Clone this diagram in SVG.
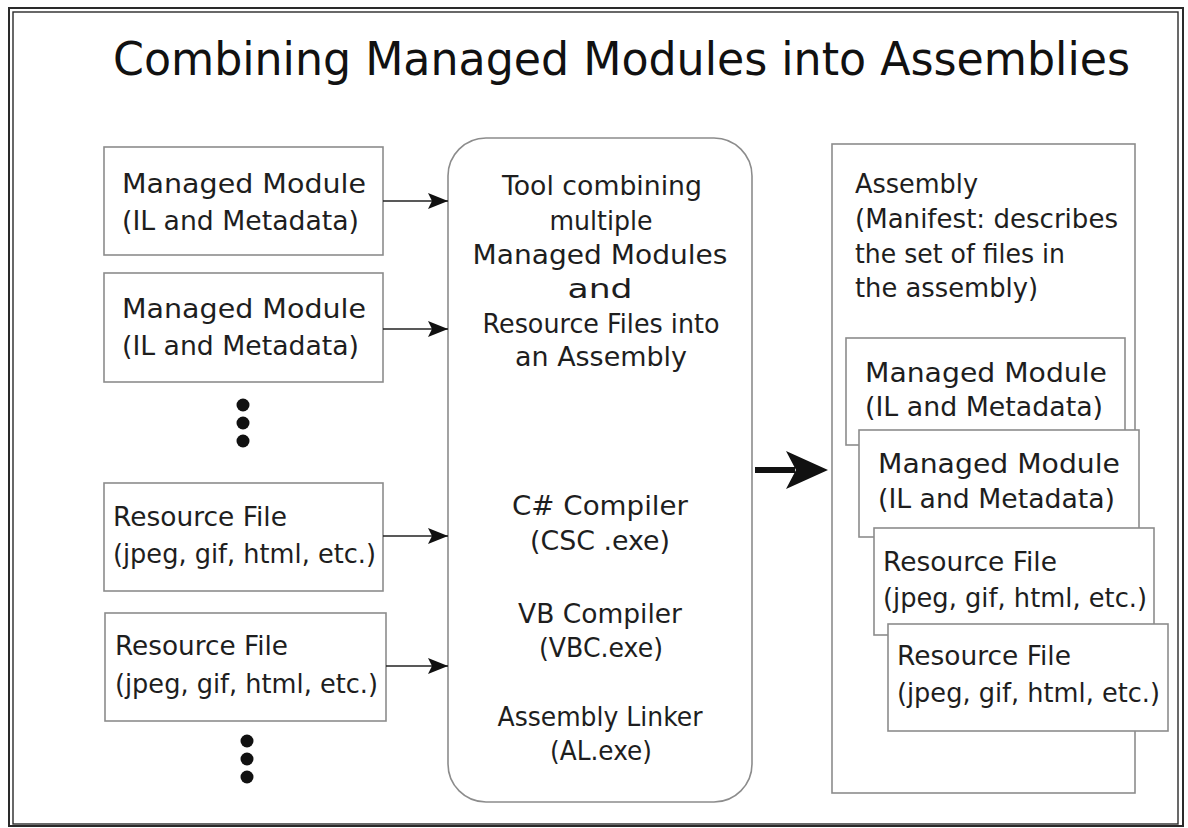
<svg xmlns="http://www.w3.org/2000/svg" width="1188" height="828" viewBox="0 0 1188 828">
  <style>
    .box { fill: #ffffff; stroke: #8c8c8c; stroke-width: 1.6; }
    .frame { fill: none; stroke: #2a2a2a; }
    .t { font-family: "DejaVu Sans", "Liberation Sans", sans-serif; font-size: 27px; fill: #1e1e1e; }
    .c { text-anchor: middle; }
    .title { font-family: "DejaVu Sans", "Liberation Sans", sans-serif; font-size: 46px; fill: #111111; }
    .wire { stroke: #222222; stroke-width: 1.6; fill: none; }
    .dot { fill: #111111; }
  </style>
  <defs>
    <marker id="head" viewBox="0 0 20 16" refX="20" refY="8" markerWidth="20" markerHeight="16" markerUnits="userSpaceOnUse" orient="auto">
      <path d="M0,0 L20,8 L0,16 L4,8 Z" fill="#111111"/>
    </marker>
  </defs>

  <rect width="1188" height="828" fill="#ffffff"/>

  <!-- double frame -->
  <rect class="frame" x="9" y="8" width="1174" height="818" stroke-width="2"/>
  <rect class="frame" x="13" y="12" width="1165" height="812" stroke-width="1.4"/>

  <text class="title" x="113" y="75" textLength="1017" lengthAdjust="spacingAndGlyphs">Combining Managed Modules into Assemblies</text>

  <!-- inputs -->
  <g id="module-in-1">
    <rect class="box" x="104" y="147" width="279" height="108"/>
    <text class="t" x="122" y="193" textLength="244" lengthAdjust="spacingAndGlyphs">Managed Module</text>
    <text class="t" x="122" y="230" textLength="237" lengthAdjust="spacingAndGlyphs">(IL and Metadata)</text>
  </g>
  <g id="module-in-2">
    <rect class="box" x="104" y="273" width="279" height="109"/>
    <text class="t" x="122" y="318" textLength="244" lengthAdjust="spacingAndGlyphs">Managed Module</text>
    <text class="t" x="122" y="355" textLength="237" lengthAdjust="spacingAndGlyphs">(IL and Metadata)</text>
  </g>
  <g id="more-modules">
    <circle class="dot" cx="243" cy="405" r="6.5"/>
    <circle class="dot" cx="243" cy="423" r="6.5"/>
    <circle class="dot" cx="243" cy="441" r="6.5"/>
  </g>
  <g id="resource-in-1">
    <rect class="box" x="104" y="483" width="279" height="108"/>
    <text class="t" x="113" y="526" textLength="174" lengthAdjust="spacingAndGlyphs">Resource File</text>
    <text class="t" x="113" y="563" textLength="263" lengthAdjust="spacingAndGlyphs">(jpeg, gif, html, etc.)</text>
  </g>
  <g id="resource-in-2">
    <rect class="box" x="105" y="613" width="281" height="108"/>
    <text class="t" x="115" y="655" textLength="173" lengthAdjust="spacingAndGlyphs">Resource File</text>
    <text class="t" x="115" y="693" textLength="263" lengthAdjust="spacingAndGlyphs">(jpeg, gif, html, etc.)</text>
  </g>
  <g id="more-resources">
    <circle class="dot" cx="247" cy="741" r="6.5"/>
    <circle class="dot" cx="247" cy="759" r="6.5"/>
    <circle class="dot" cx="247" cy="777" r="6.5"/>
  </g>

  <!-- combining tool -->
  <g id="tool">
    <rect class="box" x="448" y="138" width="304" height="664" rx="38" ry="38"/>
    <text class="t c" x="602" y="195" textLength="200" lengthAdjust="spacingAndGlyphs">Tool combining</text>
    <text class="t c" x="601" y="230" textLength="103" lengthAdjust="spacingAndGlyphs">multiple</text>
    <text class="t c" x="600" y="264" textLength="255" lengthAdjust="spacingAndGlyphs">Managed Modules</text>
    <text class="t c" x="600" y="298" textLength="65" lengthAdjust="spacingAndGlyphs">and</text>
    <text class="t c" x="601" y="333" textLength="237" lengthAdjust="spacingAndGlyphs">Resource Files into</text>
    <text class="t c" x="601" y="366" textLength="172" lengthAdjust="spacingAndGlyphs">an Assembly</text>
    <text class="t c" x="600" y="515" textLength="176" lengthAdjust="spacingAndGlyphs">C# Compiler</text>
    <text class="t c" x="600" y="550" textLength="140" lengthAdjust="spacingAndGlyphs">(CSC .exe)</text>
    <text class="t c" x="600" y="623" textLength="164" lengthAdjust="spacingAndGlyphs">VB Compiler</text>
    <text class="t c" x="601" y="657" textLength="124" lengthAdjust="spacingAndGlyphs">(VBC.exe)</text>
    <text class="t c" x="600" y="726" textLength="205" lengthAdjust="spacingAndGlyphs">Assembly Linker</text>
    <text class="t c" x="601" y="760" textLength="102" lengthAdjust="spacingAndGlyphs">(AL.exe)</text>
  </g>

  <!-- output assembly -->
  <g id="assembly">
    <rect class="box" x="832" y="144" width="303" height="649"/>
    <text class="t" x="855" y="193" textLength="123" lengthAdjust="spacingAndGlyphs">Assembly</text>
    <text class="t" x="855" y="228" textLength="263" lengthAdjust="spacingAndGlyphs">(Manifest: describes</text>
    <text class="t" x="855" y="263" textLength="210" lengthAdjust="spacingAndGlyphs">the set of files in</text>
    <text class="t" x="855" y="297" textLength="183" lengthAdjust="spacingAndGlyphs">the assembly)</text>
  </g>
  <g id="assembly-module-1">
    <rect class="box" x="846" y="338" width="279" height="107"/>
    <text class="t" x="865" y="382" textLength="242" lengthAdjust="spacingAndGlyphs">Managed Module</text>
    <text class="t" x="865" y="416" textLength="238" lengthAdjust="spacingAndGlyphs">(IL and Metadata)</text>
  </g>
  <g id="assembly-module-2">
    <rect class="box" x="859" y="430" width="280" height="107"/>
    <text class="t" x="878" y="473" textLength="242" lengthAdjust="spacingAndGlyphs">Managed Module</text>
    <text class="t" x="878" y="508" textLength="237" lengthAdjust="spacingAndGlyphs">(IL and Metadata)</text>
  </g>
  <g id="assembly-resource-1">
    <rect class="box" x="874" y="528" width="280" height="107"/>
    <text class="t" x="883" y="571" textLength="174" lengthAdjust="spacingAndGlyphs">Resource File</text>
    <text class="t" x="883" y="607" textLength="264" lengthAdjust="spacingAndGlyphs">(jpeg, gif, html, etc.)</text>
  </g>
  <g id="assembly-resource-2">
    <rect class="box" x="888" y="624" width="280" height="107"/>
    <text class="t" x="897" y="665" textLength="174" lengthAdjust="spacingAndGlyphs">Resource File</text>
    <text class="t" x="897" y="702" textLength="263" lengthAdjust="spacingAndGlyphs">(jpeg, gif, html, etc.)</text>
  </g>

  <!-- connectors -->
  <g id="connectors">
    <line class="wire" x1="383" y1="201" x2="448" y2="201" marker-end="url(#head)"/>
    <line class="wire" x1="383" y1="329" x2="448" y2="329" marker-end="url(#head)"/>
    <line class="wire" x1="383" y1="536" x2="448" y2="536" marker-end="url(#head)"/>
    <line class="wire" x1="386" y1="666" x2="448" y2="666" marker-end="url(#head)"/>
    <line x1="755" y1="470" x2="795" y2="470" stroke="#111111" stroke-width="6"/>
    <path d="M828,470 L786,451 L796,470 L786,489 Z" fill="#111111"/>
  </g>
</svg>
